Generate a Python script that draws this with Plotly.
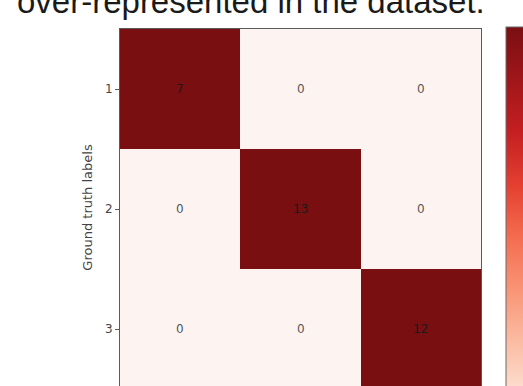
import plotly.graph_objects as go

# Confusion matrix counts (rows: ground truth, columns: prediction)
class_labels = ["1", "2", "3"]
counts = [
    [7, 0, 0],
    [0, 13, 0],
    [0, 0, 12],
]
heading = "over-represented in the dataset."

# colour each cell by its row-normalised share, annotate with raw counts
row_share = [[v / sum(row) for v in row] for row in counts]

reds = [
    [0.0, "#fdf4f1"], [0.125, "#fde0d3"], [0.25, "#fbbca3"],
    [0.375, "#f99475"], [0.5, "#f46c50"], [0.625, "#e43f30"],
    [0.75, "#c51f22"], [0.875, "#a0161a"], [1.0, "#7a0f12"],
]

positions = [1, 2, 3]
fig = go.Figure(
    go.Heatmap(
        z=row_share,
        x=positions,
        y=positions,
        zmin=0,
        zmax=1,
        colorscale=reds,
        hoverinfo="skip",
        colorbar=dict(
            x=(506 - 120) / 361, xanchor="left", xpad=0,
            y=(386 - 27) / 357, yanchor="top", ypad=0,
            lenmode="pixels", len=420,
            thickness=26,
            outlinewidth=1, outlinecolor="#6b6b6b",
            ticks="", showticklabels=False,
        ),
    )
)

for i, row in enumerate(counts):
    for j, v in enumerate(row):
        fig.add_annotation(
            x=positions[j], y=positions[i], text=str(v), showarrow=False,
            font=dict(family="DejaVu Sans", size=12,
                      color="#1a1a1a" if row_share[i][j] > 0.5 else "#555555"),
        )

fig.add_annotation(
    xref="paper", yref="paper", x=(15 - 120) / 361, y=(386 - 1) / 357,
    xanchor="left", yanchor="middle", text=heading, showarrow=False,
    font=dict(family="Liberation Sans, Arial", size=33, color="#1a1a1a"),
)

fig.update_layout(
    width=523, height=386,
    margin=dict(l=120, r=42, t=29, b=0, autoexpand=False),
    paper_bgcolor="white", plot_bgcolor="white",
    xaxis=dict(range=[0.5, 3.5], side="top", showticklabels=False, ticks="",
               showgrid=False, zeroline=False, showline=True,
               linecolor="#5a5a5a", linewidth=1),
    yaxis=dict(range=[3.475, 0.5], tickvals=positions, ticktext=class_labels,
               ticks="outside", ticklen=4, tickcolor="#5a5a5a",
               tickfont=dict(family="DejaVu Sans", size=12, color="#444444"),
               showgrid=False, zeroline=False, showline=True, mirror=True,
               linecolor="#5a5a5a", linewidth=1,
               title=dict(text="Ground truth labels", standoff=9,
                          font=dict(family="DejaVu Sans", size=13, color="#444444"))),
    showlegend=False,
)

fig.write_html("out.html")
